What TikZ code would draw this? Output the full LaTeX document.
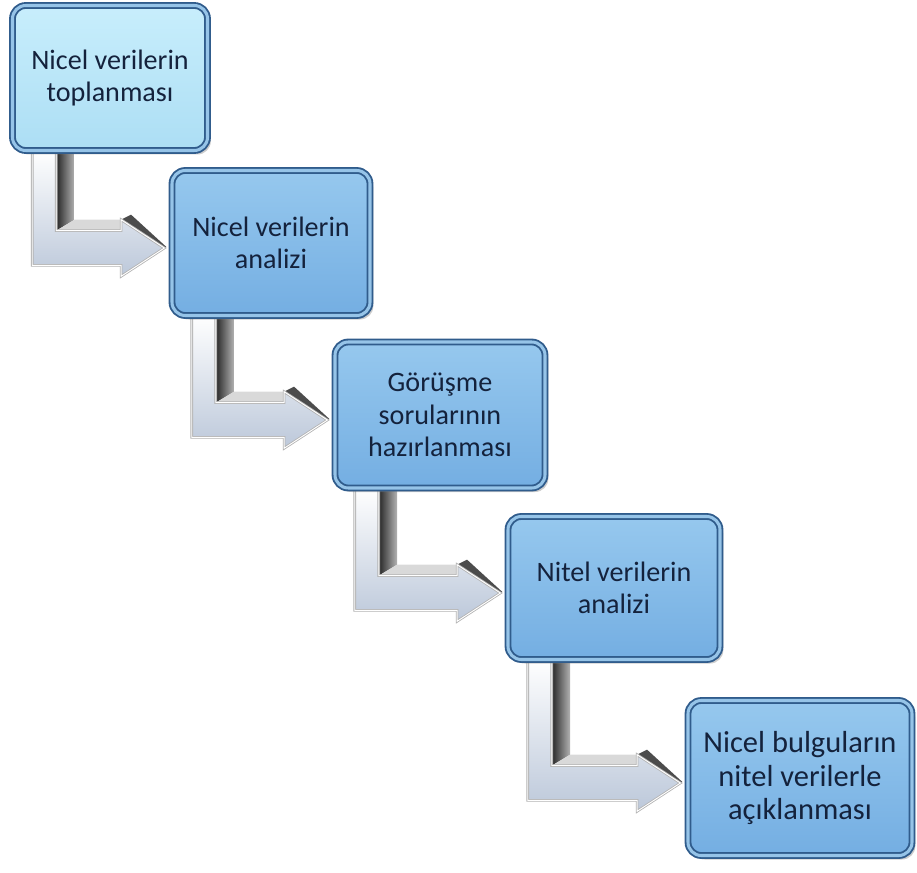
\documentclass[tikz,border=0pt]{standalone}
\usepackage{fontspec}
\setmainfont{Carlito}
\usetikzlibrary{calc, shadows, backgrounds}
\definecolor{boxedge}{RGB}{48, 92, 140}
\definecolor{boxrim}{RGB}{150, 196, 232}
\definecolor{boxtop}{RGB}{150, 200, 238}
\definecolor{boxfill}{RGB}{116, 174, 226}
\definecolor{firsttop}{RGB}{200, 238, 252}
\definecolor{firstfill}{RGB}{172, 222, 244}
\definecolor{textnavy}{RGB}{20, 34, 60}
\definecolor{arrowface}{RGB}{188, 200, 218}

%% L-shaped step arrow from box #1 down and right into box #2
%% front face: bar 0.72cm wide, shaft 1.04cm high; side faces 0.55cm / 0.33cm deep
\newcommand{\lstep}[2]{%
  \coordinate (#1-out) at ($(#1.south west)+(0.62,0.05)$);
  \coordinate (#2-in) at ($(#2.west)+(-0.2,-0.15)$);
  %% dark side face of the upright
  \shade[arrowside] let \p1=(#1-out), \p2=(#2-in) in
    ({\x1+0.72cm},{\y1}) -- ({\x1+1.27cm},{\y1}) -- ({\x1+1.27cm},{\y2+0.85cm})
    -- ({\x1+0.72cm},{\y2+0.52cm}) -- cycle;
  %% light top face of the shaft
  \fill[arrowtopface] let \p1=(#1-out), \p2=(#2-in) in
    ({\x1+0.72cm},{\y2+0.52cm}) -- ({\x2-1.3cm},{\y2+0.52cm})
    -- ({\x2-1.3cm},{\y2+0.85cm}) -- ({\x1+1.27cm},{\y2+0.85cm}) -- cycle;
  %% dark edge of the head
  \fill[arrowheadside] let \p1=(#1-out), \p2=(#2-in) in
    ({\x2-1.3cm},{\y2+0.85cm}) -- ({\x2-1.0cm},{\y2+1.0cm})
    -- ({\x2+0.06cm},{\y2+0.03cm}) -- (\x2,\y2) -- cycle;
  %% front face
  \shade[arrowfront] let \p1=(#1-out), \p2=(#2-in) in
    (\x1,\y1) -- ({\x1+0.72cm},\y1) -- ({\x1+0.72cm},{\y2+0.52cm})
    -- ({\x2-1.3cm},{\y2+0.52cm}) -- ({\x2-1.3cm},{\y2+0.85cm}) -- (\x2,\y2)
    -- ({\x2-1.3cm},{\y2-0.85cm}) -- ({\x2-1.3cm},{\y2-0.52cm}) -- (\x1,{\y2-0.52cm}) -- cycle;
}

\begin{document}
\begin{tikzpicture}[
  stepbox/.style={rounded corners=0.4cm, draw=boxedge, line width=1.6pt,
    double=boxrim, double distance=2.6pt, top color=boxtop, bottom color=boxfill,
    align=center, text=textnavy, font=\fontsize{24}{27.5}\selectfont, inner sep=4pt,
    drop shadow={shadow xshift=0.1cm, shadow yshift=-0.12cm, opacity=0.4}},
  arrowside/.style={left color=black!85, right color=gray!60},
  arrowtopface/.style={fill=gray!30},
  arrowheadside/.style={fill=black!70},
  arrowfront/.style={top color=white, bottom color=arrowface, draw=gray!60,
    double=white, double distance=0.8pt, line width=0.7pt}
]
\useasboundingbox (0,0) rectangle (27.51,-26.19);

%% ===== boxes =====
\node[stepbox, top color=firsttop, bottom color=firstfill,
  minimum width=5.85cm, minimum height=4.35cm] (collect) at (3.3,-2.34)
  {Nicel verilerin\\toplanması};
\node[stepbox, minimum width=5.94cm, minimum height=4.35cm] (quantan) at (8.13,-7.29)
  {Nicel verilerin\\analizi};
\node[stepbox, minimum width=6.3cm, minimum height=4.38cm] (questions) at (13.2,-12.45)
  {Görüşme\\sorularının\\hazırlanması};
\node[stepbox, minimum width=6.36cm, minimum height=4.29cm] (qualan) at (18.42,-17.64)
  {Nitel verilerin\\analizi};
\node[stepbox, minimum width=6.72cm, minimum height=4.65cm,
  font=\fontsize{26}{29}\selectfont] (explain) at (24.0,-23.34)
  {Nicel bulguların\\nitel verilerle\\açıklanması};

%% ===== step arrows =====
\begin{scope}[on background layer]
  \lstep{collect}{quantan}
  \lstep{quantan}{questions}
  \lstep{questions}{qualan}
  \lstep{qualan}{explain}
\end{scope}

\end{tikzpicture}
\end{document}
